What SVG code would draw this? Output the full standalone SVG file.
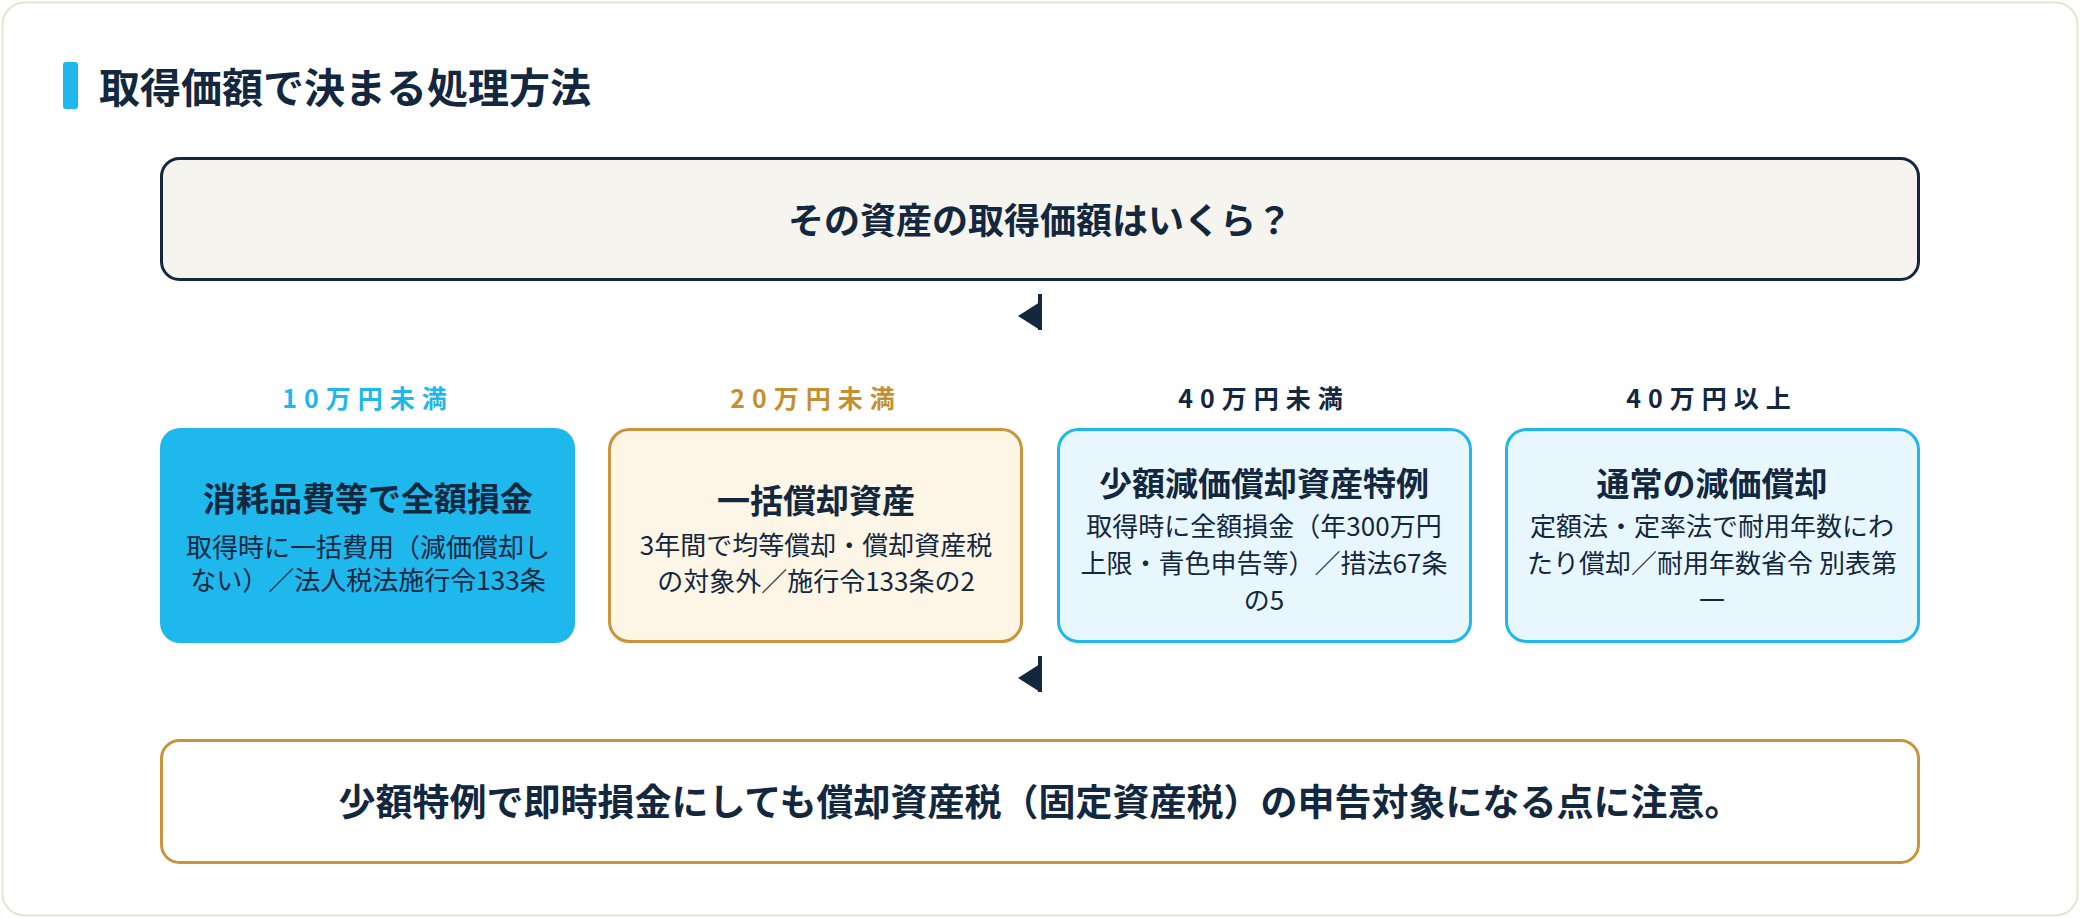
<svg xmlns="http://www.w3.org/2000/svg" width="2080" height="918" viewBox="0 0 2080 918">
<style>
text{font-family:"Noto Sans CJK JP","Noto Sans",sans-serif;fill:#13273f;text-anchor:middle}
.b{font-weight:700}
.lbl{font-size:25px;font-weight:700;letter-spacing:7px}
.t{font-size:33px;font-weight:700}
.s{font-size:26px}
</style>
<defs>
<marker id="ah" markerWidth="28" markerHeight="22" refX="14" refY="0" viewBox="-14 0 28 22" orient="auto-start-reverse" markerUnits="userSpaceOnUse">
<path d="M-14,0 L14,0 L0,22 Z" fill="#13273f"/>
</marker>
</defs>
<rect x="2.5" y="2.5" width="2075" height="913" rx="22" fill="#fff" stroke="#e6e3d6" stroke-width="2"/>
<g id="title">
<rect x="63" y="62" width="15" height="47" rx="3" fill="#1fb8ec"/>
<text x="99" y="103" class="b" style="font-size:41px;text-anchor:start">取得価額で決まる処理方法</text>
</g>
<g id="question">
<rect x="161.5" y="158.5" width="1757" height="121" rx="18" fill="#f5f4ef" stroke="#13273f" stroke-width="3"/>
<text x="1040" y="234" class="b" style="font-size:36px">その資産の取得価額はいくら？</text>
</g>
<g id="connectors" stroke="#13273f" stroke-width="4">
<line x1="1040" y1="294" x2="1040" y2="330" marker-end="url(#ah)"/>
<line x1="1040" y1="656" x2="1040" y2="692" marker-end="url(#ah)"/>
</g>
<g id="n1">
<text x="368" y="408" class="lbl" style="fill:#1fb8ec">10万円未満</text>
<rect x="160" y="428" width="415" height="215" rx="20" fill="#1fb8ec"/>
<text x="368" y="511" class="t">消耗品費等で全額損金</text>
<text x="368" y="557" class="s">取得時に一括費用（減価償却し</text>
<text x="368" y="590" class="s">ない）／法人税法施行令133条</text>
</g>
<g id="n2">
<text x="816" y="408" class="lbl" style="fill:#c4902f">20万円未満</text>
<rect x="609.5" y="429.5" width="412" height="212" rx="20" fill="#fdf5e6" stroke="#c9943a" stroke-width="3"/>
<text x="816" y="513" class="t">一括償却資産</text>
<text x="816" y="555" class="s">3年間で均等償却・償却資産税</text>
<text x="816" y="591" class="s">の対象外／施行令133条の2</text>
</g>
<g id="n3">
<text x="1264" y="408" class="lbl">40万円未満</text>
<rect x="1058.5" y="429.5" width="412" height="212" rx="20" fill="#e8f7fd" stroke="#1fb8ec" stroke-width="3"/>
<text x="1264" y="496" class="t">少額減価償却資産特例</text>
<text x="1264" y="536" class="s">取得時に全額損金（年300万円</text>
<text x="1264" y="573" class="s">上限・青色申告等）／措法67条</text>
<text x="1264" y="610" class="s">の5</text>
</g>
<g id="n4">
<text x="1712" y="408" class="lbl">40万円以上</text>
<rect x="1506.5" y="429.5" width="412" height="212" rx="20" fill="#e8f7fd" stroke="#1fb8ec" stroke-width="3"/>
<text x="1712" y="496" class="t">通常の減価償却</text>
<text x="1712" y="536" class="s">定額法・定率法で耐用年数にわ</text>
<text x="1712" y="573" class="s">たり償却／耐用年数省令 別表第</text>
<text x="1712" y="610" class="s">一</text>
</g>
<g id="note">
<rect x="161.5" y="740.5" width="1757" height="122" rx="18" fill="#fff" stroke="#c9943a" stroke-width="3"/>
<text x="1040" y="816" class="b" style="font-size:37px">少額特例で即時損金にしても償却資産税（固定資産税）の申告対象になる点に注意。</text>
</g>
</svg>
